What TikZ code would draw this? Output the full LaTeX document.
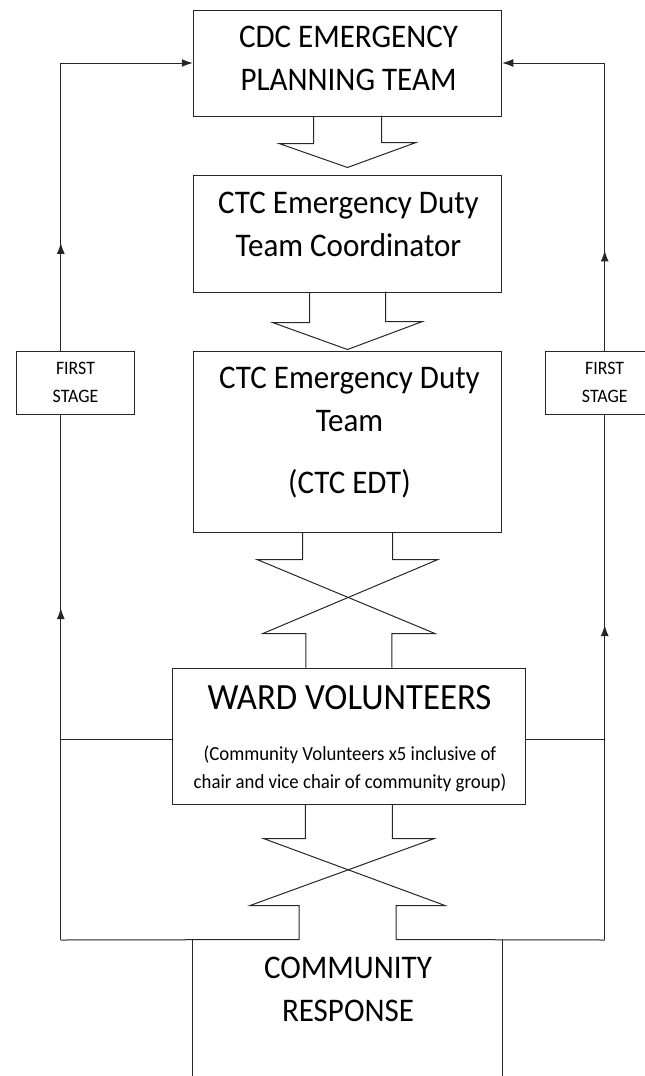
\documentclass[tikz,border=0pt]{standalone}
\usepackage{fontspec}
\setmainfont{Carlito}[FakeStretch=0.94]
\usetikzlibrary{positioning,calc,arrows.meta,decorations.markings}

\begin{document}
\begin{tikzpicture}[x=1pt,y=-1pt,line width=1pt,draw=black!85,
   >={Latex[length=11pt,width=8pt]},
   box/.style={draw,fill=white,minimum width=308.5pt},
   stagebox/.style={draw,fill=white,align=center,minimum width=118pt,minimum height=63pt,font=\fontsize{19}{27.6}\selectfont},
   txt/.style={align=center,anchor=base,inner sep=0pt,font=\fontsize{33}{43}\selectfont}]

   \useasboundingbox (0,0) rectangle (645,1076);

   % boxes down the middle
   \node[box,minimum height=106pt] at (347.5,63) (cdc) {};
   \node[box,minimum height=117pt] at (347.5,233.5) (coord) {};
   \node[box,minimum height=181pt] at (347.5,441.5) (edt) {};
   \node[box,minimum width=353.7pt,minimum height=136pt] at (348.9,736) (ward) {};
   \node[minimum width=308.5pt,minimum height=140pt] at (347.5,1010) (comm) {};

   \node[txt] at (348.5,90.7) (cdctext) {CDC EMERGENCY\\PLANNING TEAM};
   \node[txt] at (348.5,256) (coordtext) {CTC Emergency Duty\\Team Coordinator};
   \node[txt] at (349.5,493.3) (edttext) {CTC Emergency Duty\\Team\\[18.6pt](CTC EDT)};
   \node[txt,font=\fontsize{37}{43}\selectfont] at (349.5,709.3) (wardtext) {WARD VOLUNTEERS};
   \node[txt,font=\fontsize{20}{27.6}\selectfont] at (350,788.3) (wardnote) {(Community Volunteers x5 inclusive of\\chair and vice chair of community group)};
   \node[txt] at (348,1021) (commtext) {COMMUNITY\\RESPONSE};

   \coordinate (lbot) at (60.8,940);
   \coordinate (rbot) at (604.7,940);

   % block arrows between the boxes
   \draw ($(cdc.south)+(-34,0)$) -- ++(0,27) -- ++(-34.5,0) -- ($(coord.north)+(0,-7)$) -- ++(68.5,-25) -- ++(-34.5,0) -- ++(0,-27);
   \draw ($(coord.south)+(-38,0)$) -- ++(0,30) -- ++(-37,0) -- ($(edt.north)+(0,-1)$) -- ++(75,-28) -- ++(-37,0) -- ++(0,-30);

   \draw ($(edt.south)+(-45,0)$) -- ++(0,27) -- ++(-45.5,0) -- ($(ward.north)+(86,-34)$) -- ++(-43,0) -- ++(0,34);
   \draw ($(edt.south)+(45,0)$) -- ++(0,27) -- ++(45.5,0) -- ($(ward.north)+(-86,-34)$) -- ++(43,0) -- ++(0,34);

   \draw ($(ward.south)+(-43.5,0)$) -- ++(0,34) -- ++(-42,0) -- ($(comm.north)+(97.5,-34)$) -- ++(-49,0) -- ++(0,34) -- (rbot);
   \draw ($(ward.south)+(43.5,0)$) -- ++(0,34) -- ++(42,0) -- ($(comm.north)+(-97.5,-34)$) -- ++(49,0) -- ++(0,34) -- (lbot);

   \draw (comm.north west) -- (comm.south west);
   \draw (comm.north east) -- (comm.south east);

   % feedback lines
   \draw[->,postaction={decorate},decoration={markings,
      mark=at position 0.329 with {\arrow{>}},
      mark=at position 0.691 with {\arrow{>}}}] (lbot) |- (cdc.west);
   \draw[->,postaction={decorate},decoration={markings,
      mark=at position 0.3215 with {\arrow{>}},
      mark=at position 0.704 with {\arrow{>}}}] (rbot) |- (cdc.east);

   \coordinate (wl) at ([yshift=-3pt]ward.west);
   \coordinate (wr) at ([yshift=-3pt]ward.east);
   \draw (wl) -- (wl -| lbot);
   \draw (wr) -- (wr -| rbot);

   \node[stagebox] at (75.5,382.5) (stageL) {FIRST\\STAGE};
   \node[stagebox] at (604.7,382.5) (stageR) {FIRST\\STAGE};
\end{tikzpicture}
\end{document}
